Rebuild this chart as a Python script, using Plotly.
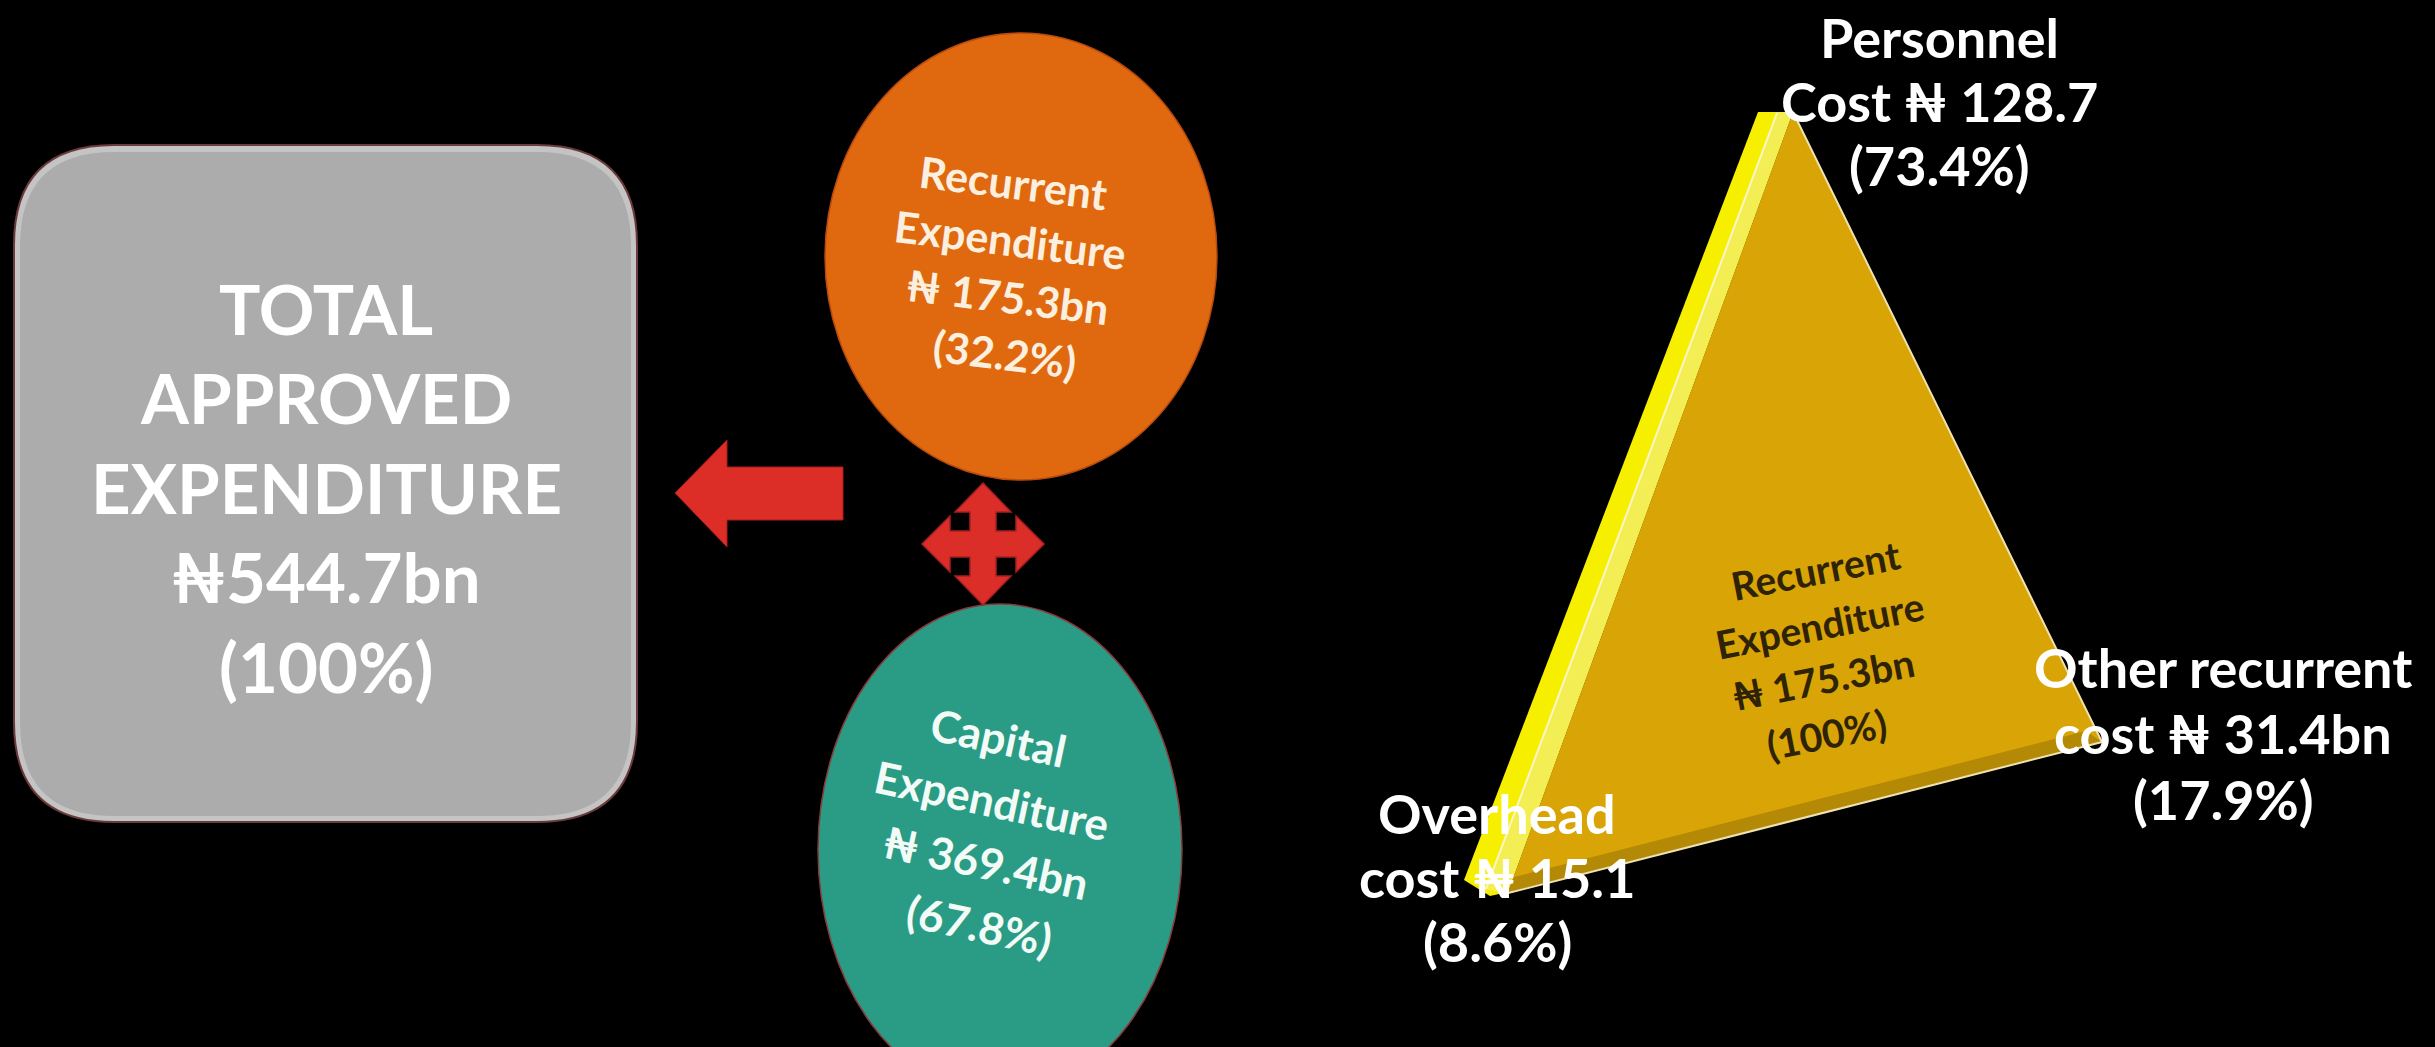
import math
import plotly.graph_objects as go

# ---------------- data ----------------
total_title = ["TOTAL", "APPROVED", "EXPENDITURE"]
total_value_bn = 544.7
total_share = 100

split_names = [["Recurrent", "Expenditure"], ["Capital", "Expenditure"]]
split_values_bn = [175.3, 369.4]
split_shares = [32.2, 67.8]

rec_names = [["Personnel", "Cost"], ["Other recurrent", "cost"], ["Overhead", "cost"]]
rec_values = [128.7, 31.4, 15.1]
rec_units = ["", "bn", ""]
rec_shares = [73.4, 17.9, 8.6]
rec_total_value_bn = 175.3
rec_total_share = 100

NAIRA = "\u20A6"

# ---------------- layout / style ----------------
W, H = 2435, 1047
FONT = "Lato, 'DejaVu Sans', sans-serif"

fig = go.Figure()
shapes = []
annotations = []


def text_block(lines, cx, cy, spacing, angle, shift_deg, size, color):
    n = len(lines)
    s = math.radians(shift_deg)
    for i, line in enumerate(lines):
        off = (i - (n - 1) / 2) * spacing
        annotations.append(dict(
            x=cx - off * math.sin(s), y=cy + off * math.cos(s),
            xref="x", yref="y", text="<b>" + line + "</b>", showarrow=False,
            textangle=angle, xanchor="center", yanchor="middle", borderpad=0,
            font=dict(family=FONT, size=size, color=color)))


def poly(points, fill, line_color=None, line_width=0):
    d = "M " + " L ".join(f"{x},{y}" for x, y in points) + " Z"
    shapes.append(dict(type="path", path=d, xref="x", yref="y",
                       fillcolor=fill,
                       line=dict(color=line_color or fill, width=line_width)))


def rounded_rect(x0, y0, x1, y1, r, fill, line_color, line_width):
    d = (f"M {x0 + r},{y0} L {x1 - r},{y0} Q {x1},{y0} {x1},{y0 + r} "
         f"L {x1},{y1 - r} Q {x1},{y1} {x1 - r},{y1} L {x0 + r},{y1} "
         f"Q {x0},{y1} {x0},{y1 - r} L {x0},{y0 + r} Q {x0},{y0} {x0 + r},{y0} Z")
    shapes.append(dict(type="path", path=d, xref="x", yref="y", fillcolor=fill,
                       line=dict(color=line_color, width=line_width)))


# grey total box (slight bevel: lighter rim under the main face)
rounded_rect(14, 145, 637, 822, 100, "#c4c4c4", "#6b3a3a", 2)
rounded_rect(20, 152, 631, 816, 94, "#acacac", "#acacac", 0)
total_lines = total_title + [f"{NAIRA}{total_value_bn}bn", f"({total_share}%)"]
text_block(total_lines, 326, 487, 89.5, 0, 0, 69, "#ffffff")

# left arrow
poly([(675, 493), (727, 440), (727, 467), (843, 467), (843, 520), (727, 520), (727, 547)],
     "#dd2d27", "#a81c1c", 1)

# orange and teal ellipses
shapes.append(dict(type="circle", xref="x", yref="y", x0=825, x1=1217, y0=33, y1=480,
                   fillcolor="#e0690f", line=dict(color="#b84a10", width=1.5)))
shapes.append(dict(type="circle", xref="x", yref="y", x0=818, x1=1182, y0=604, y1=1096,
                   fillcolor="#2a9c85", line=dict(color="#8a3a3a", width=1.5)))

# four-way arrow
cx, cy = 983, 544
pts = [(0, -61), (28, -32), (13, -32), (13, -13), (33, -13), (33, -28), (61, 0),
       (33, 28), (33, 13), (13, 13), (13, 32), (28, 32), (0, 61), (-28, 32),
       (-13, 32), (-13, 13), (-33, 13), (-33, 28), (-61, 0), (-33, -28),
       (-33, -13), (-13, -13), (-13, -32), (-28, -32)]
poly([(cx + dx, cy + dy) for dx, dy in pts], "#dc2e29", "#a81f1f", 1.5)

# split texts
rec_lines = split_names[0] + [f"{NAIRA} {split_values_bn[0]}bn", f"({split_shares[0]}%)"]
cap_lines = split_names[1] + [f"{NAIRA} {split_values_bn[1]}bn", f"({split_shares[1]}%)"]
text_block(rec_lines, 1009, 268, 57, 7, 3, 43, "#fbefdf")
text_block(cap_lines, 989, 831, 63, 12, 5.5, 44, "#f2fbf6")

# triangle (recurrent breakdown)
poly([(1758, 112), (1793, 112), (1508, 892), (1490, 896), (1464, 880)], "#f6ef00")
poly([(1777, 112), (1793, 112), (1508, 892), (1486, 890)], "#f4ee55")
shapes.append(dict(type="line", xref="x", yref="y", x0=1777, y0=113, x1=1486, y1=889,
                   line=dict(color="#fbf6c8", width=2)))
poly([(1793, 112), (2102, 742), (1508, 892)], "#d9a406")
poly([(1508, 892), (2102, 742), (2086, 731), (1514, 877)], "#b38905")
shapes.append(dict(type="path", xref="x", yref="y",
                   path="M 1793,112 L 2102,742 L 1508,893",
                   line=dict(color="#efe2b0", width=2)))

tri_lines = ["Recurrent", "Expenditure", f"{NAIRA} {rec_total_value_bn}bn", f"({rec_total_share}%)"]
text_block(tri_lines, 1821, 652, 55, -11, -3.5, 39, "#2e2306")

label_pos = [(1939, 101, 64), (2223, 733, 66), (1497, 877, 64)]
for names, val, unit, share, (lx, ly, sp) in zip(rec_names, rec_values, rec_units, rec_shares, label_pos):
    lines = [names[0], f"{names[1]} {NAIRA} {val}{unit}", f"({share}%)"]
    text_block(lines, lx, ly, sp, 0, 0, 54, "#ffffff")

fig.update_layout(
    width=W, height=H,
    margin=dict(l=0, r=0, t=0, b=0),
    paper_bgcolor="#000000", plot_bgcolor="#000000",
    xaxis=dict(range=[0, W], visible=False, showgrid=False, zeroline=False, fixedrange=True),
    yaxis=dict(range=[H, 0], visible=False, showgrid=False, zeroline=False, fixedrange=True),
    shapes=shapes, annotations=annotations, showlegend=False,
)

fig.write_html(
    "out.html",
    config={"displayModeBar": False},
    post_script="document.body.style.margin='0';document.body.style.background='#000';"
                "document.body.style.overflow='hidden';",
)
